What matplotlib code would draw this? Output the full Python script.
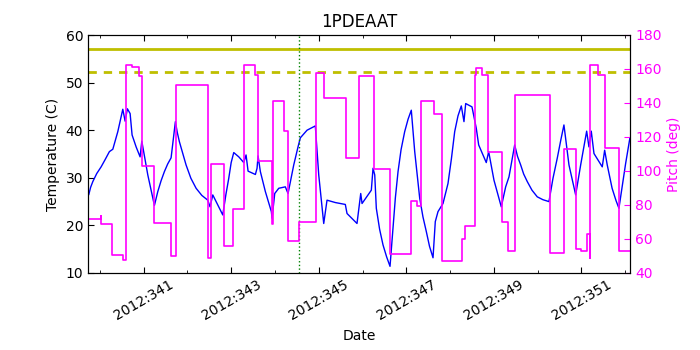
import matplotlib
matplotlib.use('Agg')
from matplotlib import pyplot as plt
from matplotlib.ticker import FixedLocator

# day of year 2012 vs temperature (C)
temp_days = [339.749, 339.790, 339.840, 339.930, 340.030, 340.120, 340.219, 340.297,
             340.411, 340.525, 340.578, 340.630, 340.692, 340.737, 340.829, 340.920,
             340.959, 340.995, 341.096, 341.247, 341.324, 341.400, 341.475, 341.550,
             341.628, 341.726, 341.770, 341.817, 341.970, 342.080, 342.199, 342.330,
             342.466, 342.518, 342.580, 342.808, 342.880, 342.945, 343.000, 343.059,
             343.174, 343.288, 343.340, 343.386, 343.553, 343.591, 343.614, 343.667,
             343.781, 343.918, 343.934, 343.995, 344.087, 344.237, 344.299, 344.429,
             344.527, 344.580, 344.733, 344.922, 345.000, 345.114, 345.189, 345.379,
             345.607, 345.646, 345.874, 345.959, 345.989, 346.201, 346.240, 346.279,
             346.315, 346.390, 346.468, 346.550, 346.628, 346.696, 346.750, 346.811,
             346.880, 346.963, 347.040, 347.114, 347.192, 347.306, 347.380, 347.457,
             347.530, 347.610, 347.662, 347.724, 347.838, 347.952, 348.030, 348.105,
             348.180, 348.256, 348.317, 348.356, 348.500, 348.598, 348.653, 348.826,
             348.881, 349.002, 349.094, 349.169, 349.269, 349.345, 349.475, 349.540,
             349.612, 349.680, 349.763, 349.870, 349.991, 350.120, 350.258, 350.350,
             350.447, 350.530, 350.600, 350.715, 350.868, 350.982, 351.119, 351.171,
             351.224, 351.286, 351.475, 351.530, 351.589, 351.700, 351.790, 351.856,
             352.009, 352.107]
temps = [26.5, 28.0, 29.2, 30.9, 32.3, 33.8, 35.5, 36.0,
         39.7, 44.4, 41.9, 44.5, 43.5, 39.0, 36.5, 34.4,
         37.7, 35.8, 30.6, 24.2, 27.1, 29.4, 31.3, 32.9,
         34.2, 41.8, 39.5, 37.6, 32.7, 29.9, 27.8, 26.3,
         25.3, 23.9, 26.4, 22.2, 26.5, 29.9, 33.2, 35.3,
         34.4, 33.2, 34.8, 31.4, 30.7, 32.0, 34.6, 31.3,
         27.1, 22.9, 21.5, 26.7, 27.8, 28.1, 26.7, 32.7,
         36.5, 38.4, 40.0, 40.9, 30.6, 20.4, 25.3, 24.8,
         24.4, 22.5, 20.4, 26.7, 24.6, 27.4, 32.0, 30.6,
         23.6, 19.2, 15.9, 13.4, 11.4, 19.4, 25.8, 31.3,
         35.9, 39.7, 42.3, 44.2, 35.5, 25.7, 21.8, 18.7,
         15.6, 13.2, 20.8, 22.9, 24.6, 28.8, 34.0, 39.7,
         43.0, 45.1, 41.8, 45.6, 44.9, 40.4, 36.9, 33.2,
         35.5, 29.5, 26.4, 23.9, 28.1, 30.2, 36.9, 34.5,
         32.7, 30.8, 29.2, 27.4, 26.0, 25.4, 25.0, 29.9,
         34.1, 38.0, 41.1, 32.7, 26.4, 32.7, 39.8, 36.5,
         39.8, 35.1, 32.3, 35.8, 32.7, 27.8, 25.2, 23.6,
         33.0, 38.4]

# pitch (deg), value holds from each day until the next
pitch_days = [339.749, 340.025, 340.035, 340.281, 340.539, 340.600, 340.737, 340.890,
              340.966, 341.247, 341.628, 341.742, 342.466, 342.548, 342.831, 343.037,
              343.301, 343.553, 343.614, 343.930, 343.950, 344.201, 344.292, 344.543,
              344.938, 345.128, 345.623, 345.913, 346.263, 346.635, 347.114, 347.251,
              347.342, 347.632, 347.822, 348.272, 348.333, 348.562, 348.598, 348.728,
              348.865, 349.192, 349.322, 349.475, 350.281, 350.600, 350.868, 350.995,
              351.119, 351.187, 351.197, 351.377, 351.537, 351.856, 352.120]
pitch = [72.0, 73.5, 68.6, 50.8, 47.8, 162.2, 161.0, 155.7,
         103.0, 69.4, 50.0, 150.8, 48.8, 104.3, 55.8, 77.8,
         162.2, 156.3, 105.7, 69.0, 141.0, 123.3, 58.8, 70.0,
         157.8, 143.1, 107.6, 155.7, 101.4, 51.4, 82.4, 79.4,
         141.0, 133.7, 46.9, 59.8, 67.6, 156.3, 160.8, 156.3,
         111.2, 70.0, 52.8, 144.9, 52.0, 112.8, 54.3, 52.8,
         62.8, 48.8, 162.2, 156.3, 113.5, 52.8, 52.8]

planning_limit = 57.0
caution_limit = 52.3
now_day = 344.54

major_days = [341, 343, 345, 347, 349, 351]
major_labels = ['2012:%d' % d for d in major_days]
minor_days = [340, 342, 344, 346, 348, 350, 352]

plt.rcParams['font.family'] = 'DejaVu Sans'
plt.rcParams['font.size'] = 10

fig = plt.figure(figsize=(7, 3.5), dpi=100)
ax = fig.add_axes([0.1257, 0.22, 0.775, 0.68])
ax.plot(temp_days, temps, color='b', lw=1.0)
ax.axhline(planning_limit, color=(0.75, 0.75, 0), lw=2)
ax.axhline(caution_limit, color=(0.75, 0.75, 0), lw=2, ls='--', dashes=(3, 2.5))
ax.axvline(now_day, color=(0, 0.5, 0), lw=1, ls=':')
ax.set_xlim(339.73, 352.12)
ax.set_ylim(10, 60)
ax.set_ylabel('Temperature (C)')
ax.set_xlabel('Date')
ax.set_title('1PDEAAT', fontsize=12)
ax.xaxis.set_major_locator(FixedLocator(major_days))
ax.xaxis.set_minor_locator(FixedLocator(minor_days))
ax.set_xticklabels(major_labels, rotation=30)
ax.tick_params(axis='x', which='both', direction='in', top=True, bottom=True)
ax.tick_params(axis='x', which='major', length=4)
ax.tick_params(axis='x', which='minor', length=2)
ax.tick_params(axis='y', direction='in', left=True, right=False, length=4)

ax2 = ax.twinx()
ax2.step(pitch_days, pitch, where='post', color='magenta', lw=1.2)
ax2.set_ylim(40, 180)
ax2.set_ylabel('Pitch (deg)', color='magenta')
ax2.tick_params(axis='y', direction='in', colors='magenta', length=4)
for t in ax2.get_yticklines():
    t.set_color('k')
ax2.set_xlim(339.73, 352.12)

fig.savefig('out.png', dpi=100)
